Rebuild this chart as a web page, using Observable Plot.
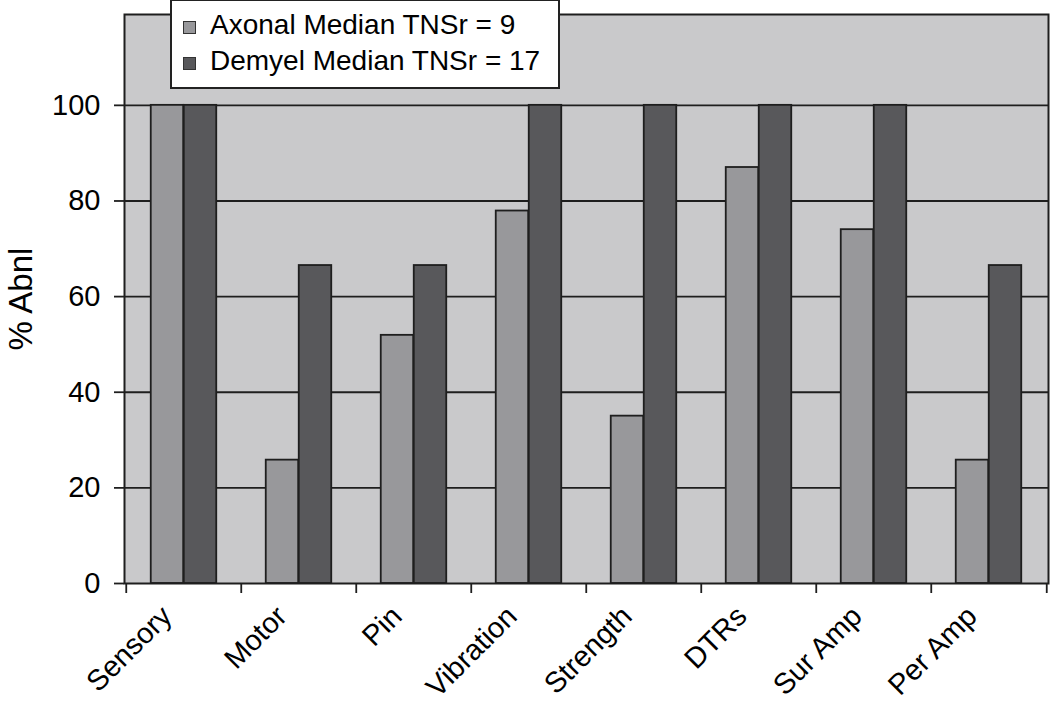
<!DOCTYPE html>
<html>
<head>
<meta charset="utf-8">
<script src="https://cdn.jsdelivr.net/npm/d3@7"></script>
<script src="https://cdn.jsdelivr.net/npm/@observablehq/plot@0.6"></script>
<style>
  html, body { margin: 0; padding: 0; background: #fff; }
  #wrap { position: relative; width: 1050px; height: 703px; font-family: "Liberation Sans", Arial, sans-serif; }
  #legend { position: absolute; left: 170px; top: 0px; width: 386px; height: 86px; background: #fff; border: 2px solid #222; border-top-width: 1px; }
  .row { position: absolute; left: 0; font-size: 28px; line-height: 28px; color: #000; white-space: nowrap; }
  .sw { position: absolute; width: 11px; height: 11px; border: 1px solid #333; }
</style>
</head>
<body>
<div id="wrap"></div>
<script>
const categories = ["Sensory", "Motor", "Pin", "Vibration", "Strength", "DTRs", "Sur Amp", "Per Amp"];
const seriesNames = ["Axonal Median TNSr = 9", "Demyel Median TNSr = 17"];
const axonal = [100, 25.8, 51.9, 77.9, 35, 87, 74, 25.8];
const demyel = [100, 66.5, 66.5, 100, 100, 100, 100, 66.5];
const yTicks = [0, 20, 40, 60, 80, 100];
const colors = ["#98989b", "#58585b"];

const axonalData = categories.map((c, i) => ({category: c, value: axonal[i]}));
const demyelData = categories.map((c, i) => ({category: c, value: demyel[i]}));

const W = 1050, H = 703;
const mL = 124, mR = 2, mT = 14, mB = 120;
const band = (W - mL - mR) / categories.length;
const barW = 33;

const chart = Plot.plot({
  width: W,
  height: H,
  marginLeft: mL,
  marginRight: mR,
  marginTop: mT,
  marginBottom: mB,
  style: {fontFamily: "'Liberation Sans', Arial, sans-serif", fontSize: "28px", color: "#000", background: "#fff"},
  x: {type: "band", domain: categories, padding: 0, axis: null},
  y: {domain: [0, 119], axis: null},
  marks: [
    Plot.frame({fill: "#c9c9cb", stroke: "none"}),
    Plot.ruleY(yTicks.filter(d => d > 0), {stroke: "#1e1e1e", strokeWidth: 1.8}),
    Plot.barY(axonalData, {x: "category", y: "value", fill: colors[0], stroke: "#1e1e1e", strokeWidth: 1.8,
      insetLeft: band / 2 - barW, insetRight: band / 2}),
    Plot.barY(demyelData, {x: "category", y: "value", fill: colors[1], stroke: "#1e1e1e", strokeWidth: 1.8,
      insetLeft: band / 2, insetRight: band / 2 - barW}),
    Plot.frame({stroke: "#1e1e1e", strokeWidth: 2}),
    Plot.axisY({ticks: yTicks, tickSize: 10, tickPadding: 14, fontSize: 29, stroke: "#1e1e1e", strokeWidth: 1.8, label: null}),
    Plot.axisX({tickSize: 10, tickFormat: () => "", dx: -band / 2, stroke: "#1e1e1e", strokeWidth: 1.8, label: null}),
    Plot.axisX({ticks: [categories[categories.length - 1]], tickSize: 10, tickFormat: () => "", dx: band / 2, stroke: "#1e1e1e", strokeWidth: 1.8, label: null}),
    Plot.text(categories, {x: d => d, frameAnchor: "bottom", rotate: -45, textAnchor: "end", lineAnchor: "middle", dx: -17, dy: 28, fontSize: 29, fill: "#000"}),
    Plot.text(["% Abnl"], {frameAnchor: "left", rotate: -90, textAnchor: "middle", lineAnchor: "middle", dx: -103, fontSize: 33, fill: "#000"})
  ]
});

const wrap = document.getElementById("wrap");
wrap.appendChild(chart);

const legend = document.createElement("div");
legend.id = "legend";
seriesNames.forEach((name, i) => {
  const top = i === 0 ? 10 : 46;
  const sw = document.createElement("div");
  sw.className = "sw";
  sw.style.left = "11px";
  sw.style.top = (top + 10) + "px";
  sw.style.background = colors[i];
  legend.appendChild(sw);
  const t = document.createElement("div");
  t.className = "row";
  t.style.left = "38px";
  t.style.top = top + "px";
  t.textContent = name;
  legend.appendChild(t);
});
wrap.appendChild(legend);
</script>
</body>
</html>
